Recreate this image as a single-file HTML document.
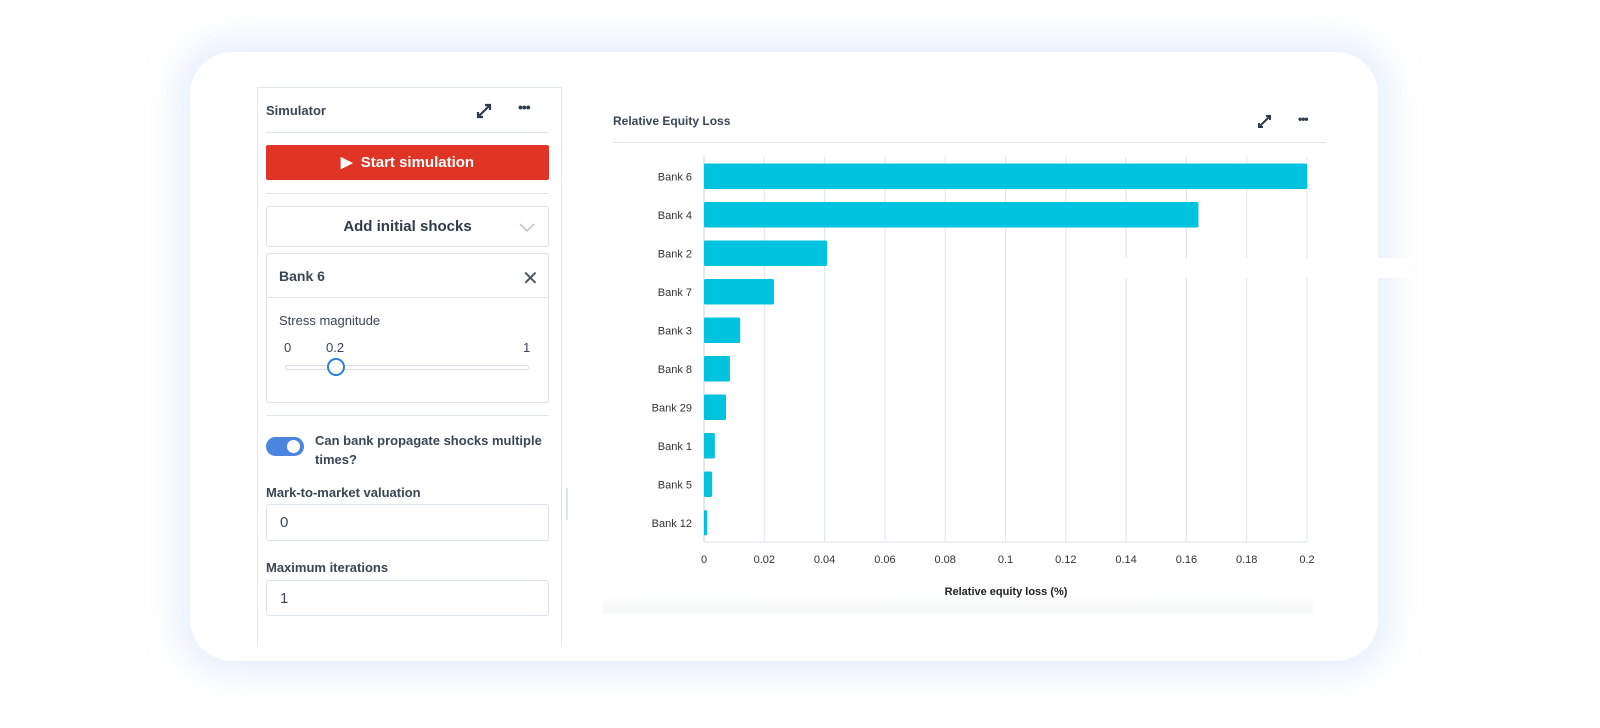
<!DOCTYPE html>
<html><head><meta charset="utf-8">
<style>
*{box-sizing:border-box;margin:0;padding:0}
body{width:1600px;height:728px;background:#fff;position:relative;overflow:hidden;font-family:"Liberation Sans",sans-serif;color:#3a4654}
.abs{position:absolute}
#card{left:190px;top:52px;width:1188px;height:609px;background:#fff;border-radius:42px;box-shadow:0 0 30px 14px rgba(215,226,250,0.55)}
#panel{left:257px;top:87px;width:305px;height:560px;border:1px solid #e1e6ee;border-bottom:none}
.hr{height:1px;background:#e1e6ee}
.box{border:1px solid #dde3ec;border-radius:3px;background:#fff}
.lbl{font-size:13px;font-weight:bold;color:#3a4654}
</style></head><body>
<div id="card" class="abs"></div>
<div id="panel" class="abs"></div>
<div class="abs lbl" style="left:266px;top:103px;font-size:13px">Simulator</div>
<svg class="abs" style="left:475px;top:102px" width="18" height="18"><path d="M3 15 L15 3 M10 3 H15 V8 M3 10 V15 H8" stroke="#2f3b4a" stroke-width="2.2" fill="none"/></svg>
<div class="abs" style="left:518px;top:99px;font-size:14px;font-weight:bold;color:#2f3b4a;letter-spacing:-1px">•••</div>
<div class="abs hr" style="left:266px;top:132px;width:283px"></div>
<div class="abs" style="left:266px;top:145px;width:283px;height:35px;background:#e03426;border-radius:2px;color:#fff;font-size:15px;font-weight:bold;text-align:center;line-height:35px">&#9654;&nbsp; Start simulation</div>
<div class="abs hr" style="left:266px;top:193px;width:283px"></div>
<div class="abs box" style="left:266px;top:206px;width:283px;height:41px;font-size:15px;font-weight:bold;text-align:center;line-height:40px;color:#2f3b4a">Add initial shocks</div>
<svg class="abs" style="left:518px;top:221px" width="18" height="12"><path d="M2 3 L9 10 L16 3" stroke="#b8c1cc" stroke-width="1.5" fill="none"/></svg>
<div class="abs box" style="left:266px;top:253px;width:283px;height:150px"></div>
<div class="abs hr" style="left:267px;top:297px;width:281px"></div>
<div class="abs lbl" style="left:279px;top:268px;font-size:14px">Bank 6</div>
<div class="abs" style="left:522px;top:266px;font-size:20px;color:#4a5664">&#x2715;</div>
<div class="abs" style="left:279px;top:313px;font-size:13px">Stress magnitude</div>
<div class="abs" style="left:284px;top:340px;font-size:13px">0</div>
<div class="abs" style="left:326px;top:340px;font-size:13px">0.2</div>
<div class="abs" style="left:523px;top:340px;font-size:13px">1</div>
<div class="abs" style="left:285px;top:365px;width:244px;height:5px;border:1px solid #d8dee8;border-radius:3px"></div>
<div class="abs" style="left:327px;top:358px;width:18px;height:18px;border:2px solid #2e7fd9;border-radius:50%;background:#fff"></div>
<div class="abs hr" style="left:266px;top:415px;width:283px"></div>
<div class="abs" style="left:266px;top:437px;width:38px;height:19px;background:#4a86e0;border-radius:10px"><div style="position:absolute;left:21px;top:3px;width:13px;height:13px;border-radius:50%;background:#fff"></div></div>
<div class="abs lbl" style="left:315px;top:431px;width:230px;line-height:19px">Can bank propagate shocks multiple times?</div>
<div class="abs lbl" style="left:266px;top:485px">Mark-to-market valuation</div>
<div class="abs box" style="left:266px;top:504px;width:283px;height:37px;font-size:15px;line-height:36px;padding-left:13px">0</div>
<div class="abs lbl" style="left:266px;top:560px">Maximum iterations</div>
<div class="abs box" style="left:266px;top:580px;width:283px;height:36px;font-size:15px;line-height:35px;padding-left:13px">1</div>
<div class="abs" style="left:566px;top:488px;width:2px;height:32px;background:#e1e6ee"></div>

<div class="abs" style="left:603px;top:595px;width:710px;height:18px;background:linear-gradient(#fff,#f6f7f9)"></div>
<div class="abs" style="left:613px;top:114px;font-size:12px;font-weight:bold;color:#3a4654">Relative Equity Loss</div>
<svg class="abs" style="left:1257px;top:114px" width="15" height="15"><path d="M2 13 L13 2 M9 2 H13 V6 M2 9 V13 H6" stroke="#2f3b4a" stroke-width="2" fill="none"/></svg>
<div class="abs" style="left:1298px;top:112px;font-size:12px;font-weight:bold;color:#2f3b4a;letter-spacing:-1px">•••</div>
<div class="abs hr" style="left:613px;top:142px;width:713px"></div>
<svg id="chart" class="abs" style="left:0;top:0" width="1600" height="728"></svg>
<div class="abs" style="left:1125px;top:258px;width:285px;height:20px;background:#fff"></div>
<script>
const categories=["Bank 6","Bank 4","Bank 2","Bank 7","Bank 3","Bank 8","Bank 29","Bank 1","Bank 5","Bank 12"];
const values=[0.2,0.164,0.0408,0.0232,0.012,0.0086,0.0073,0.0036,0.0027,0.001];
const ticks=[0,0.02,0.04,0.06,0.08,0.1,0.12,0.14,0.16,0.18,0.2];
const tickLabels=["0","0.02","0.04","0.06","0.08","0.1","0.12","0.14","0.16","0.18","0.2"];
const NS="http://www.w3.org/2000/svg",svg=document.getElementById('chart');
const X0=704,X1=1307,Y0=157,Y1=542;
const x=v=>X0+(v-0)/(0.2-0)*(X1-X0);
const band=(Y1-Y0)/categories.length;
const y=i=>Y0+band*i;
function mk(t,a){const e=document.createElementNS(NS,t);for(const k in a)e.setAttribute(k,a[k]);svg.appendChild(e);return e;}
ticks.forEach((t,i)=>{
 const g=mk('line',{x1:x(t),x2:x(t),y1:Y0,y2:Y1,stroke:'#dfe4ec','stroke-width':1});
 
 
 const l=mk('text',{x:x(t),y:563,'text-anchor':'middle','font-size':11,fill:'#333','font-family':'Liberation Sans, sans-serif'});
 l.textContent=tickLabels[i];
 
 
});
const ax=mk('line',{x1:X0,x2:X0,y1:Y0,y2:Y1,stroke:'#c9d0db'});


const bx=mk('line',{x1:X0,x2:X1,y1:Y1,y2:Y1,stroke:'#dfe4ec'});


categories.forEach((c,i)=>{
 const r=mk('rect',{x:X0,y:y(i)+6.5,width:x(values[i])-X0,height:band-13,fill:'#00c3e0',rx:1.5});
 
 
 const t=mk('text',{x:692,y:y(i)+band/2+4,'text-anchor':'end','font-size':11,fill:'#333','font-family':'Liberation Sans, sans-serif'});
 t.textContent=c;
 
 
});
const xt=mk('text',{x:1006,y:595,'text-anchor':'middle','font-size':11,'font-weight':'bold',fill:'#222','font-family':'Liberation Sans, sans-serif'});
xt.textContent='Relative equity loss (%)';


</script>
</body></html>
